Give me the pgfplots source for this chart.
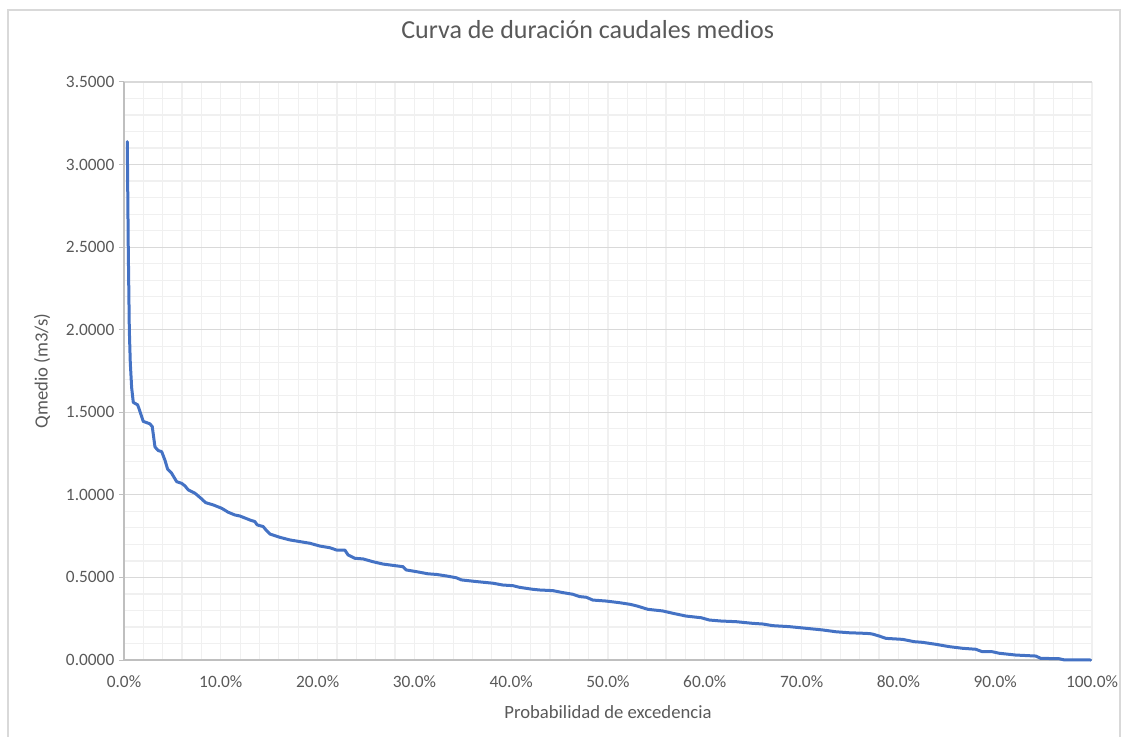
\documentclass[border=0pt]{standalone}
\usepackage{pgfplots}
\pgfplotsset{compat=1.18}
\usepackage{fontspec}
\setmainfont{Carlito}
\definecolor{txt}{HTML}{595959}
\definecolor{majg}{HTML}{D9D9D9}
\definecolor{ming}{HTML}{F0F0F0}
\definecolor{axl}{HTML}{BFBFBF}
\definecolor{serie}{HTML}{4472C4}
\begin{document}
\begin{tikzpicture}
\begin{axis}[
  at={(0,0)}, anchor=south west,
  scale only axis, width=726pt, height=433.5pt,
  xmin=0, xmax=100, ymin=0, ymax=3.5,
  xtick={0,10,...,100}, ytick={0,0.5,1,1.5,2,2.5,3,3.5},
  minor xtick={0,2,...,100}, minor y tick num=4,
  ymajorgrids, xminorgrids, yminorgrids,
  major grid style={majg, line width=0.9pt},
  minor grid style={ming, line width=0.9pt},
  axis x line*=bottom, axis y line*=left,
  axis line style={axl, line width=0.9pt, -},
  tick align=outside,
  xtick style={draw=none},
  ytick style={axl, line width=0.75pt},
  major tick length=3.75pt, minor tick length=0pt,
  /pgf/number format/assume math mode=true,
  tick label style={font=\fontsize{13}{15}\selectfont, text=txt},
  xticklabel style={yshift=-4.5pt},
  xticklabel={\pgfmathprintnumber[fixed,fixed zerofill,precision=1]{\tick}\%},
  yticklabel style={/pgf/number format/.cd, fixed, fixed zerofill, precision=4},
  title={Curva de duración caudales medios},
  title style={at={(axis description cs:0.479,1.076)}, anchor=center, font=\fontsize{19.5}{23}\selectfont, text=txt},
  xlabel={Probabilidad de excedencia},
  ylabel={Qmedio (m3/s)},
  every axis x label/.style={at={(axis description cs:0.5,-0.090)}, anchor=center, font=\fontsize{14}{16}\selectfont, text=txt},
  every axis y label/.style={at={(axis description cs:-0.0847,0.5)}, anchor=center, rotate=90, font=\fontsize{14}{16}\selectfont, text=txt},
  clip=false,
]
\addplot[serie, line width=2.25pt, line join=round, line cap=round] coordinates {
(0.34,3.139) (0.44,2.50) (0.55,2.00) (0.65,1.80) (0.79,1.65) (0.96,1.56)
(1.41,1.545) (1.65,1.505) (1.99,1.445) (2.68,1.43) (2.92,1.413) (3.20,1.29)
(3.54,1.268) (3.89,1.262) (4.23,1.21) (4.51,1.155) (4.92,1.131) (5.44,1.08)
(5.95,1.07) (6.30,1.054) (6.64,1.03) (7.33,1.01) (7.95,0.979) (8.43,0.953)
(9.22,0.939) (10.08,0.919) (10.76,0.895) (11.46,0.878) (11.97,0.872) (13.0,0.848)
(13.52,0.838) (13.76,0.818) (14.38,0.808) (14.73,0.783) (15.07,0.763) (16.10,0.743)
(17.13,0.727) (18.16,0.717) (19.20,0.707) (20.23,0.690) (21.26,0.680) (21.95,0.666)
(22.81,0.666) (23.15,0.636) (23.84,0.616) (24.70,0.612) (25.73,0.595) (26.76,0.581)
(27.79,0.573) (28.82,0.565) (29.17,0.545) (30.21,0.535) (31.40,0.522) (32.3,0.518)
(33.30,0.509) (34.33,0.498) (34.85,0.485) (36.40,0.475) (38.11,0.465) (39.14,0.454)
(40.18,0.450) (40.87,0.440) (42.24,0.428) (42.93,0.424) (44.30,0.420) (45.34,0.408)
(46.37,0.398) (47.06,0.384) (47.75,0.380) (48.43,0.363) (49.81,0.357) (51.19,0.347)
(52.3,0.337) (53.0,0.327) (54.11,0.307) (55.65,0.297) (56.69,0.283) (58.07,0.266)
(59.62,0.256) (60.47,0.242) (61.68,0.236) (63.23,0.232) (64.94,0.222) (65.98,0.218)
(67.01,0.208) (68.73,0.202) (70.45,0.192) (72.17,0.182) (73.55,0.171) (74.92,0.165)
(76.30,0.162) (76.99,0.160) (77.33,0.157) (78.02,0.145) (78.71,0.131) (80.42,0.125)
(81.63,0.111) (82.49,0.107) (83.87,0.095) (85.24,0.081) (86.61,0.071) (87.99,0.065)
(88.68,0.050) (89.71,0.050) (90.40,0.041) (92.12,0.030) (94.19,0.024) (94.70,0.010)
(96.59,0.008) (97.11,0.001) (99.86,0.000)
};
\end{axis}
\pgfresetboundingbox
\path[use as bounding box] (-93pt,-57pt) rectangle (753pt,495pt);
\draw[majg, line width=0.9pt] (-87pt,-80pt) -- (-87pt,487.5pt) -- (747pt,487.5pt) -- (747pt,-80pt);
\end{tikzpicture}
\end{document}
